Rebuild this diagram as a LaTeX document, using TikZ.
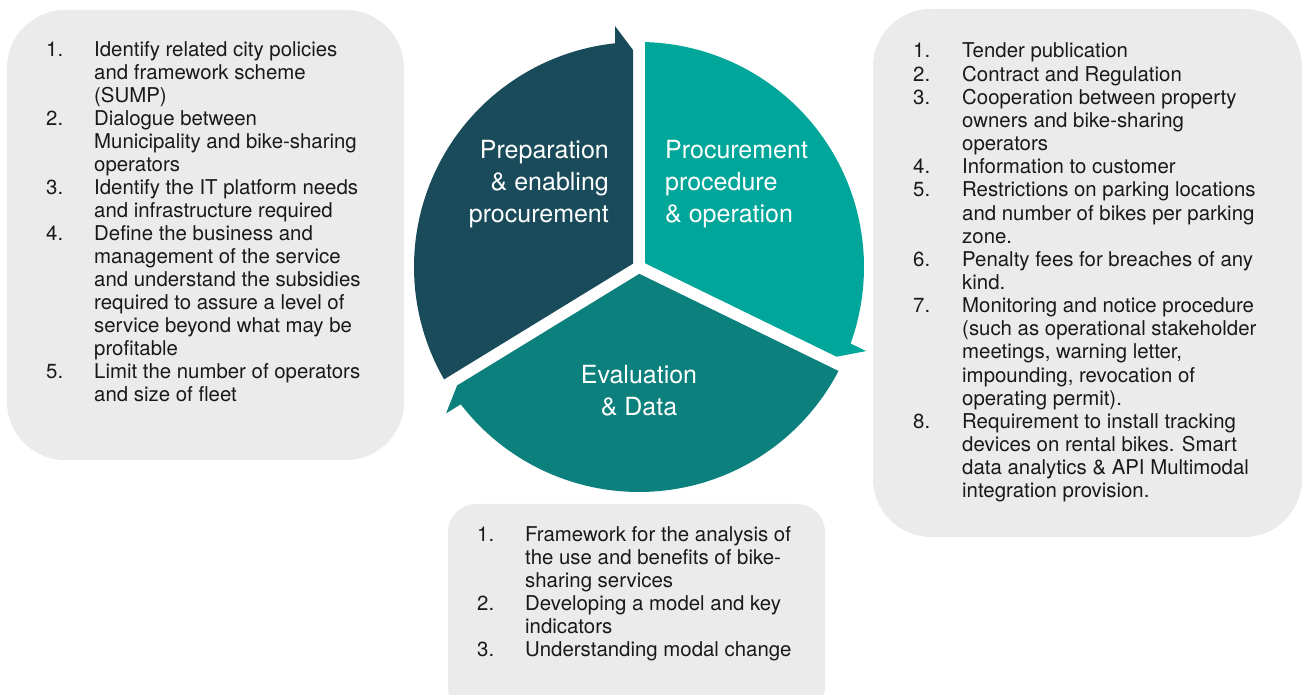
\documentclass[tikz,border=0pt]{standalone}
\usepackage{fontspec}
\setmainfont{TeX Gyre Heros}
\usetikzlibrary{calc}
\definecolor{segdark}{RGB}{26,75,90}
\definecolor{segteal}{RGB}{0,166,154}
\definecolor{segeval}{RGB}{12,128,124}
\definecolor{boxgray}{RGB}{235,235,235}
\definecolor{listcol}{RGB}{25,25,25}
\begin{document}
\begin{tikzpicture}[x=1pt,y=1pt,
  graybox/.style={fill=boxgray},
  listtext/.style={inner sep=0pt, anchor=base west, text=listcol, font=\fontsize{20.4}{23}\selectfont},
  seglabel/.style={inner sep=0pt, text=white, font=\fontsize{25}{32}\selectfont}]
\useasboundingbox (0,0) rectangle (1304,695);
\clip (0,0) rectangle (1304,695);

% grey boxes
\fill[graybox, rounded corners=58pt] (7,235) rectangle (404,685);
\fill[graybox, rounded corners=58pt] (873,158) rectangle (1302,686);
\fill[graybox, rounded corners=28pt] (448,-20) rectangle (825,191);

% cycle segments
\coordinate (C) at (639,428);
\begin{scope}[shift={(C)}]
\fill[segdark] (150.75:6.88pt) -- (209.97:225pt)
  arc[start angle=209.97, end angle=96.12, radius=225pt]
  -- (95.69:242.2pt) -- (91.58:217.1pt) -- cycle;
\fill[segteal] (32:7.07pt) -- (88.47:225pt)
  arc[start angle=88.47, end angle=-19.88, radius=225pt]
  -- (-20.31:242.2pt) -- (-24.42:217.1pt) -- cycle;
\fill[segeval] (272.75:6.84pt) -- (332.47:225pt)
  arc[start angle=332.47, end angle=217.62, radius=225pt]
  -- (217.19:242.2pt) -- (213.08:217.1pt) -- cycle;
\end{scope}

% segment labels
\node[seglabel, anchor=base east] (prep) at (609,536)
  {\begin{tabular}[t]{@{}r@{}}Preparation\\ \& enabling\\ procurement\end{tabular}};
\node[seglabel, anchor=base west] (proc) at (665,536)
  {\begin{tabular}[t]{@{}l@{}}Procurement\\ procedure\\ \& operation\end{tabular}};
\node[seglabel, anchor=base] (eval) at (639,311)
  {\begin{tabular}[t]{@{}c@{}}Evaluation\\ \& Data\end{tabular}};

% left list
\node[listtext] (leftlist) at (46,638)
  {\begin{tabular}[t]{@{}p{48pt}@{}l@{}}
  1. & Identify related city policies\\
     & and framework scheme\\
     & (SUMP)\\
  2. & Dialogue between\\
     & Municipality and bike-sharing\\
     & operators\\
  3. & Identify the IT platform needs\\
     & and infrastructure required\\
  4. & Define the business and\\
     & management of the service\\
     & and understand the subsidies\\
     & required to assure a level of\\
     & service beyond what may be\\
     & profitable\\
  5. & Limit the number of operators\\
     & and size of fleet
  \end{tabular}};

% right list
\node[listtext, font=\fontsize{20.4}{23.15}\selectfont] (rightlist) at (913,637)
  {\begin{tabular}[t]{@{}p{49pt}@{}l@{}}
  1. & Tender publication\\
  2. & Contract and Regulation\\
  3. & Cooperation between property\\
     & owners and bike-sharing\\
     & operators\\
  4. & Information to customer\\
  5. & Restrictions on parking locations\\
     & and number of bikes per parking\\
     & zone.\\
  6. & Penalty fees for breaches of any\\
     & kind.\\
  7. & Monitoring and notice procedure\\
     & (such as operational stakeholder\\
     & meetings, warning letter,\\
     & impounding, revocation of\\
     & operating permit).\\
  8. & Requirement to install tracking\\
     & devices on rental bikes. Smart\\
     & data analytics \& API Multimodal\\
     & integration provision.
  \end{tabular}};

% bottom list
\node[listtext] (bottomlist) at (477,153)
  {\begin{tabular}[t]{@{}p{48pt}@{}l@{}}
  1. & Framework for the analysis of\\
     & the use and benefits of bike-\\
     & sharing services\\
  2. & Developing a model and key\\
     & indicators\\
  3. & Understanding modal change
  \end{tabular}};
\end{tikzpicture}
\end{document}
